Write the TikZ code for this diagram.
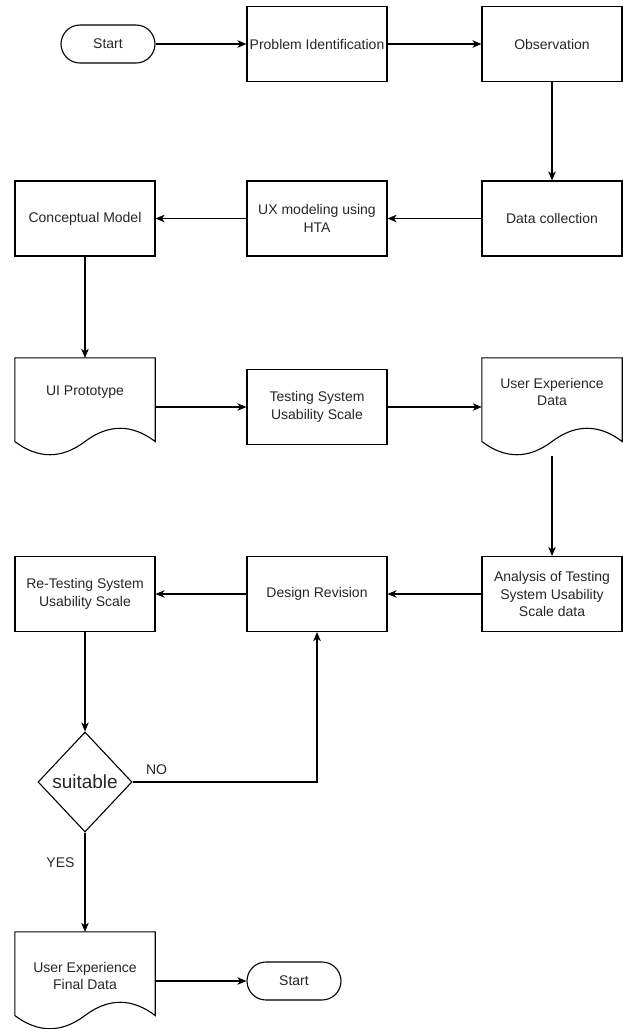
\documentclass[tikz,border=0pt]{standalone}
\usepackage{fontspec}
\setmainfont{Liberation Sans}
\usetikzlibrary{shapes.geometric,arrows.meta}

\newcommand{\docoutline}[1]{%
  \draw [line width=1.1pt] (#1.north west) -- (#1.north east)
    -- ([yshift=14.7pt]#1.south east)
    .. controls ([xshift=-23.33pt,yshift=32.34pt]#1.south east)
    and ([xshift=-46.67pt,yshift=32.34pt]#1.south east) .. ([yshift=14.7pt]#1.south)
    .. controls ([xshift=-23.33pt,yshift=-2.94pt]#1.south)
    and ([xshift=23.33pt,yshift=-2.94pt]#1.south west) .. ([yshift=14.7pt]#1.south west)
    -- cycle;}

\tikzset{
  every node/.style={font=\fontsize{14}{17.5}\selectfont, align=center, text=black!85},
  stepbox/.style={draw=black, line width=1.1pt, minimum width=140pt, minimum height=75pt, inner sep=2pt},
  termbox/.style={draw=black, line width=1.1pt, rounded corners=19pt, minimum width=94pt, minimum height=38pt},
  docbox/.style={minimum width=140pt, minimum height=98pt, inner sep=0pt},
  decbox/.style={draw=black, diamond, line width=1.1pt, minimum width=94pt, minimum height=100pt,
    inner sep=0pt, font=\fontsize{19}{22}\selectfont},
  flow/.style={-{Stealth[length=9pt,width=7.5pt,inset=2.5pt]}, line width=1.1pt},
}

\begin{document}
\begin{tikzpicture}[x=1pt, y=-1pt]
    \useasboundingbox (0,0) rectangle (623,1029);

    \node [termbox] (start) at (108,44) {Start};
    \node [stepbox] (probid) at (317,44) {Problem Identification};
    \node [stepbox] (obs) at (552,44) {Observation};

    \node [stepbox] (datacol) at (552,218.5) {Data collection};
    \node [stepbox] (uxhta) at (317,218.5) {UX modeling using\\HTA};
    \node [stepbox] (concept) at (85,218.5) {Conceptual Model};

    \node [docbox, label={[yshift=15pt]center:UI Prototype}] (uiproto) at (85,407) {};
    \node [stepbox] (testsus) at (317,407) {Testing System\\Usability Scale};
    \node [docbox, label={[yshift=15pt]center:{User Experience\\Data}}] (uxdata) at (552,407) {};
    \docoutline{uiproto}
    \docoutline{uxdata}

    \node [stepbox] (analysis) at (552,594) {Analysis of Testing\\System Usability\\Scale data};
    \node [stepbox] (revision) at (317,594) {Design Revision};
    \node [stepbox] (retest) at (85,594) {Re-Testing System\\Usability Scale};

    \node [decbox] (suitable) at (85,782) {suitable};

    \node [docbox, label={[yshift=5pt]center:{User Experience\\Final Data}}] (finaldata) at (85,981) {};
    \docoutline{finaldata}
    \node [termbox] (finish) at (294,981) {Start};

    \draw [flow] (start) -- (probid);
    \draw [flow] (probid) -- (obs);
    \draw [flow] (obs) -- (datacol);
    \draw [flow] (datacol) -- (uxhta);
    \draw [flow] (uxhta) -- (concept);
    \draw [flow] (concept) -- (uiproto);
    \draw [flow] (uiproto) -- (testsus);
    \draw [flow] (testsus) -- (uxdata);
    \draw [flow] (uxdata) -- (analysis);
    \draw [flow] (analysis) -- (revision);
    \draw [flow] (revision) -- (retest);
    \draw [flow] (retest) -- (suitable);
    \draw [flow] (suitable.east) -| node[pos=0, anchor=south west, inner sep=0pt, xshift=13pt, yshift=7pt]{NO} (revision.south);
    \draw [flow] (suitable) -- node[pos=0.3, anchor=east, inner sep=0pt, xshift=-10pt]{YES} (finaldata);
    \draw [flow] (finaldata) -- (finish);
\end{tikzpicture}
\end{document}
